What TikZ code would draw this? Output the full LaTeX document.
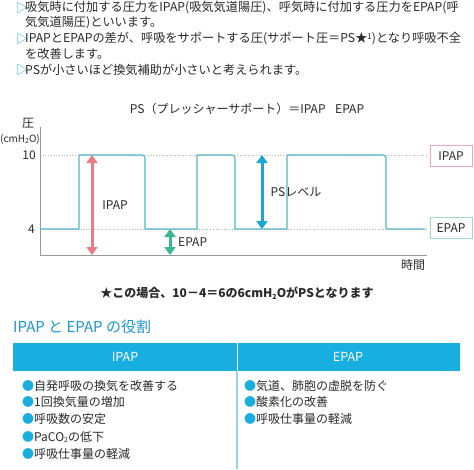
\documentclass[tikz,border=0pt]{standalone}
\usepackage{fontspec}
\setmainfont{Noto Sans CJK JP}
\usetikzlibrary{arrows.meta}
\definecolor{txt}{HTML}{2A2A2A}
\definecolor{cyanm}{HTML}{19AEE0}
\definecolor{headc}{HTML}{1E96CF}
\definecolor{wave}{HTML}{52B6C9}
\definecolor{pinkc}{HTML}{EC7B86}
\definecolor{pinkl}{HTML}{F2AAB0}
\definecolor{greenc}{HTML}{3DB590}
\definecolor{greenl}{HTML}{9FD8C5}
\definecolor{psblue}{HTML}{1BA6D8}
\definecolor{divl}{HTML}{8FD3EF}
\tikzset{
  body/.style={font=\fontsize{12.2}{14}\selectfont, text=txt, inner sep=0pt, anchor=west},
  tri/.style={font=\fontsize{12}{14}\selectfont, text=cyanm, inner sep=0pt, anchor=west},
  lbl/.style={font=\fontsize{12}{14}\selectfont, text=txt, inner sep=0pt},
  dotl/.style={gray!60, dotted, line width=0.7pt},
  axisl/.style={gray!80, line width=0.8pt},
  dbl/.style={line width=3pt, {Triangle[width=11pt,length=8pt]}-{Triangle[width=11pt,length=8pt]}},
  bul/.style={font=\fontsize{12}{14}\selectfont, text=txt, inner sep=0pt, anchor=west},
}
\newcommand{\bu}{{\color{cyanm}●}}
\newcommand{\subtwo}{\raisebox{-0.25ex}{\fontsize{7}{7}\selectfont 2}}
\begin{document}
\begin{tikzpicture}[x=1pt,y=-1pt]
\useasboundingbox[fill=white] (0,0) rectangle (474,469);
% intro lines
\node[tri] (t1) at (16,8) {▷};
\node[body] (l1) at (25,8) {吸気時に付加する圧力をIPAP(吸気気道陽圧)、呼気時に付加する圧力をEPAP(呼};
\node[body] (l2) at (25,23) {気気道陽圧)といいます。};
\node[tri] (t3) at (16,39) {▷};
\node[body] (l3) at (25,39) {IPAPとEPAPの差が、呼吸をサポートする圧(サポート圧＝PS★\raisebox{0.6ex}{\fontsize{8}{8}\selectfont 1})となり呼吸不全};
\node[body] (l4) at (25,54) {を改善します。};
\node[tri] (t5) at (16,70) {▷};
\node[body] (l5) at (25,70) {PSが小さいほど換気補助が小さいと考えられます。};
% chart title
\node[lbl] (title) at (247,109) {PS（プレッシャーサポート）＝IPAP\hspace{0.8em}EPAP};
% axes labels
\node[lbl] (ya) at (28,123) {圧};
\node[lbl, font=\fontsize{10}{12}\selectfont] (yu) at (20,139) {(cmH\subtwo O)};
\node[lbl, anchor=east] (y10) at (36,155) {10};
\node[lbl, anchor=east] (y4) at (35,229) {4};
% coordinates
\coordinate (o) at (40,255);
\coordinate (ytop) at (40,127);
\coordinate (xend) at (427,255);
% dotted
\draw[dotl] (40,155) -- (428,155);
\draw[dotl] (40,229) -- (428,229);
% axes
\draw[axisl] (ytop) -- (o) -- (xend);
% waveform
\draw[wave, line width=1.2pt, line join=round]
  (40,229) -- (79,229) -- (79,155) -- (138,155) .. controls (145,155) .. (145,162) -- (145,229)
  -- (197,229) -- (197,155) -- (228,155) .. controls (235,155) .. (235,162) -- (235,229)
  -- (287,229) -- (287,155) -- (379,155) .. controls (386,155) .. (386,162) -- (386,229)
  -- (425,229);
% right boxes
\node[draw=pinkl, line width=1pt, minimum width=42pt, minimum height=21pt, inner sep=0pt, font=\fontsize{12}{14}\selectfont, text=txt] (ipapbox) at (451,156) {IPAP};
\node[draw=greenl, line width=1pt, minimum width=42pt, minimum height=21pt, inner sep=0pt, font=\fontsize{12}{14}\selectfont, text=txt] (epapbox) at (451,228) {EPAP};
% arrows
\coordinate (pa) at (92,155); \coordinate (pb) at (92,255);
\draw[dbl, pinkc] (pa) -- (pb);
\node[lbl] (ipapl) at (115,205) {IPAP};
\coordinate (ea) at (170,229); \coordinate (eb) at (170,255);
\draw[dbl, greenc] (ea) -- (eb);
\node[lbl, anchor=west] (epapl) at (178,242) {EPAP};
\coordinate (sa) at (262,155); \coordinate (sb) at (262,229);
\draw[dbl, psblue] (sa) -- (sb);
\node[lbl] (psl) at (296,192) {PSレベル};
\node[lbl] (time) at (413,265) {時間};
% star note
\node[lbl, font=\fontsize{12}{14}\selectfont\bfseries] (note) at (237,293) {★この場合、10－4＝6の6cmH\subtwo OがPSとなります};
% heading
\node[inner sep=0pt, anchor=west, text=headc, font=\fontsize{15}{17}\selectfont] (head) at (13,327) {IPAP と EPAP の役割};
% table header
\fill[cyanm] (13,343) rectangle (460,371);
\draw[white, line width=1pt] (237,343) -- (237,371);
\draw[divl, line width=1.5pt] (237,371) -- (237,469);
\node[text=white, font=\fontsize{12.5}{14}\selectfont, inner sep=0pt] (hi) at (125,357) {IPAP};
\node[text=white, font=\fontsize{12.5}{14}\selectfont, inner sep=0pt] (he) at (348,357) {EPAP};
% items
\node[bul] (i1) at (22,386) {\bu 自発呼吸の換気を改善する};
\node[bul] (i2) at (22,402) {\bu 1回換気量の増加};
\node[bul] (i3) at (22,419) {\bu 呼吸数の安定};
\node[bul] (i4) at (22,437) {\bu PaCO\subtwo の低下};
\node[bul] (i5) at (22,454) {\bu 呼吸仕事量の軽減};
\node[bul] (e1) at (244,386) {\bu 気道、肺胞の虚脱を防ぐ};
\node[bul] (e2) at (244,402) {\bu 酸素化の改善};
\node[bul] (e3) at (244,419) {\bu 呼吸仕事量の軽減};
\end{tikzpicture}
\end{document}
